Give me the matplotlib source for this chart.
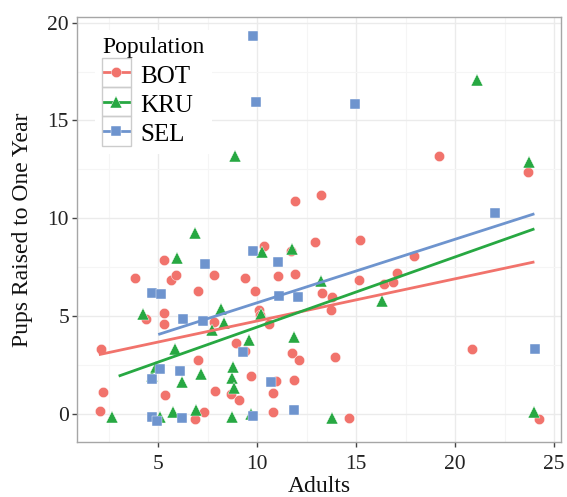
import numpy as np
import matplotlib
matplotlib.use("Agg")
import matplotlib.pyplot as plt
from matplotlib.lines import Line2D
from matplotlib.patches import Rectangle
from matplotlib.transforms import IdentityTransform

# Points (the original looks jittered)
bot_adults = [2.13, 2.22, 2.07, 3.82, 4.37, 5.30, 5.30, 5.30, 5.35, 5.64, 5.92, 7.02, 7.81, 7.81,
              7.02, 7.30, 6.85, 7.88, 8.67, 9.09, 8.95, 9.37, 9.39, 9.66, 9.90, 10.10, 10.13, 10.35,
              10.60, 10.82, 10.82, 10.97, 11.07, 11.73, 11.76, 11.86, 11.93, 11.93, 12.10, 12.91,
              13.21, 13.26, 13.72, 13.80, 13.93, 14.61, 15.13, 15.20, 16.38, 16.85, 17.07, 17.93,
              19.16, 20.83, 23.67, 24.23]
bot_pups = [3.32, 1.14, 0.19, 6.97, 4.88, 7.90, 5.19, 4.63, 0.97, 6.87, 7.13, 6.28, 7.11, 4.71,
            2.76, 0.10, -0.26, 1.21, 1.02, 0.75, 3.64, 3.21, 6.97, 1.97, 6.31, 5.34, 5.05, 8.59,
            4.63, 1.07, 0.10, 1.72, 7.04, 8.33, 3.13, 1.77, 7.16, 10.90, 2.76, 8.78,
            11.22, 6.17, 5.32, 5.97, 2.94, -0.19, 6.87, 8.91, 6.66, 6.77, 7.22, 8.06,
            13.21, 3.33, 12.36, -0.24]

kru_adults = [2.66, 4.24, 4.68, 4.91, 5.10, 5.75, 5.85, 5.97, 6.18, 6.86, 6.93, 7.15, 7.71, 8.19,
              8.33, 8.70, 8.70, 8.78, 8.82, 8.89, 9.60, 9.66, 10.18, 10.23, 11.76, 11.87, 13.20,
              13.77, 16.32, 21.08, 23.73, 24.00]
kru_pups = [-0.15, 5.14, 1.95, 2.43, -0.12, 0.10, 3.33, 7.99, 1.63, 9.27, 0.22, 2.06, 4.30, 5.37,
            4.67, 1.84, -0.15, 2.43, 1.32, 13.20, 3.80, 0.00, 5.12, 8.30, 8.42, 3.96, 6.80,
            -0.20, 5.77, 17.06, 12.89, 0.13]

sel_adults = [4.66, 5.16, 4.66, 4.93, 4.66, 5.08, 6.11, 6.22, 6.24, 7.27, 7.35, 9.26, 9.80, 9.80,
              9.80, 9.96, 10.72, 11.07, 11.12, 11.85, 12.07, 14.95, 22.02, 24.02]
sel_pups = [6.20, 6.12, -0.15, -0.34, 1.78, 2.29, 2.21, -0.20, 4.88, 4.78, 7.67, 3.16, -0.07, 8.35,
            19.30, 15.95, 1.66, 7.77, 6.04, 0.20, 5.97, 15.83, 10.29, 3.33]

populations = ["BOT", "KRU", "SEL"]
colors = {"BOT": "#F1736C", "KRU": "#27A842", "SEL": "#6E94CE"}
markers = {"BOT": "o", "KRU": "^", "SEL": "s"}
marker_sizes = {"BOT": 7.4, "KRU": 8.6, "SEL": 7.3}

data = {
    "BOT": (np.array(bot_adults), np.array(bot_pups)),
    "KRU": (np.array(kru_adults), np.array(kru_pups)),
    "SEL": (np.array(sel_adults), np.array(sel_pups)),
}

plt.rcParams["font.family"] = ["Liberation Serif", "DejaVu Serif"]

fig = plt.figure(figsize=(5.67, 4.97), dpi=100)
ax = fig.add_axes([0.1363, 0.1113, 0.853, 0.854])

# Points first, then the linear fits on top
for pop in populations:
    x, y = data[pop]
    ax.plot(x, y, linestyle="none", marker=markers[pop], markersize=marker_sizes[pop],
            markerfacecolor=colors[pop], markeredgecolor="white", markeredgewidth=0.3,
            zorder=3)

for pop in populations:
    x, y = data[pop]
    slope, intercept = np.polyfit(x, y, 1)
    xs = np.array([np.round(x.min()), np.round(x.max())])
    ax.plot(xs, intercept + slope * xs, color=colors[pop], linewidth=2.0, zorder=4,
            solid_capstyle="butt")

ax.set_xlim(0.91, 25.34)
ax.set_ylim(-1.40, 20.27)
ax.set_xticks([5, 10, 15, 20, 25])
ax.set_yticks([0, 5, 10, 15, 20])
ax.set_xticks([2.5, 7.5, 12.5, 17.5, 22.5], minor=True)
ax.set_yticks([2.5, 7.5, 12.5, 17.5], minor=True)

# theme_bw-ish look
ax.grid(which="major", color="#EBEBEB", linewidth=1.0, zorder=0)
ax.grid(which="minor", color="#F5F5F5", linewidth=0.8, zorder=0)
ax.set_axisbelow(True)
for spine in ax.spines.values():
    spine.set_color("#A6A6A6")
    spine.set_linewidth(1.0)
ax.tick_params(which="major", length=3.6, width=1.0, color="#444444",
               labelsize=15.5, labelcolor="#222222")
ax.tick_params(axis="x", which="major", pad=6)
ax.tick_params(axis="y", which="major", pad=2.4)
ax.tick_params(which="minor", length=0)

ax.set_xlabel("Adults", fontsize=17, color="#111111", labelpad=1.2)
ax.set_ylabel("Pups Raised to One Year", fontsize=17, color="#111111", labelpad=10)

handles = [Line2D([], [], color=colors[p], marker=markers[p], markersize=marker_sizes[p],
                  markeredgecolor="white", markeredgewidth=0.3, linewidth=2.0)
           for p in populations]
leg = ax.legend(handles, populations, title="Population", loc="upper left",
                bbox_to_anchor=(0.037, 0.97), fontsize=18, title_fontsize=17,
                frameon=True, facecolor="white", edgecolor="none", framealpha=1.0,
                fancybox=False, handlelength=1.1, handleheight=1.1, labelspacing=0.15,
                handletextpad=0.4, borderpad=0.3, borderaxespad=0.0)
leg._legend_box.align = "left"
leg.set_zorder(5)

# grey box around each legend key, like ggplot; size = row pitch
fig.canvas.draw()
renderer = fig.canvas.get_renderer()
centers = []
for h in leg.legend_handles:
    bb = h.get_window_extent(renderer)
    centers.append(((bb.x0 + bb.x1) / 2, (bb.y0 + bb.y1) / 2))
pitch = abs(centers[0][1] - centers[1][1])
for cx, cy in centers:
    fig.add_artist(Rectangle((cx - pitch / 2, cy - pitch / 2), pitch, pitch,
                             transform=IdentityTransform(), facecolor="none",
                             edgecolor="#CCCCCC", linewidth=1.0, zorder=6))

fig.savefig("out.png", dpi=100)
